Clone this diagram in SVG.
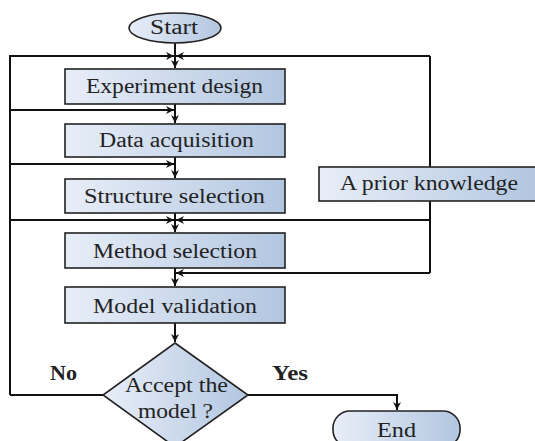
<svg xmlns="http://www.w3.org/2000/svg" width="535" height="441" viewBox="0 0 535 441">
<defs>
<linearGradient id="g" x1="0" y1="0" x2="1" y2="0">
<stop offset="0" stop-color="#e8eef8"/>
<stop offset="1" stop-color="#b2c6e0"/>
</linearGradient>
<marker id="a" viewBox="0 0 10 10" refX="10" refY="5" markerWidth="8" markerHeight="8" markerUnits="userSpaceOnUse" orient="auto">
<path d="M0,0 L10,5 L0,10 L3,5 Z" fill="#111"/>
</marker>
<style>
.n{fill:url(#g);stroke:#222;stroke-width:1.6}
.t{font-family:"Liberation Serif","DejaVu Serif",serif;font-size:20px;fill:#222}
.c{fill:none;stroke:#111;stroke-width:2}
</style>
</defs>
<g id="connectors">
<path class="c" d="M175,43 V68" marker-end="url(#a)"/>
<path class="c" d="M10,395 V56 H174" marker-end="url(#a)"/>
<path class="c" d="M430,56 H176" marker-end="url(#a)"/>
<path class="c" d="M430,56 V273"/>
<path class="c" d="M175,104 V123" marker-end="url(#a)"/>
<path class="c" d="M10,110 H174" marker-end="url(#a)"/>
<path class="c" d="M175,157 V178" marker-end="url(#a)"/>
<path class="c" d="M10,164 H174" marker-end="url(#a)"/>
<path class="c" d="M175,213 V232" marker-end="url(#a)"/>
<path class="c" d="M10,220 H174" marker-end="url(#a)"/>
<path class="c" d="M430,220 H176" marker-end="url(#a)"/>
<path class="c" d="M175,268 V286" marker-end="url(#a)"/>
<path class="c" d="M430,273 H176" marker-end="url(#a)"/>
<path class="c" d="M175,323 V342" marker-end="url(#a)"/>
<path class="c" d="M103,395 H10"/>
<path class="c" d="M248,395 H397 V410" marker-end="url(#a)"/>
</g>
<g id="start">
<ellipse class="n" cx="175" cy="28" rx="46" ry="15"/>
<text class="t" x="150" y="34" textLength="48" lengthAdjust="spacingAndGlyphs">Start</text>
</g>
<g id="experiment">
<rect class="n" x="65" y="69" width="220" height="35"/>
<text class="t" x="86" y="93" textLength="177" lengthAdjust="spacingAndGlyphs">Experiment design</text>
</g>
<g id="data">
<rect class="n" x="65" y="124" width="220" height="33"/>
<text class="t" x="99" y="147" textLength="155" lengthAdjust="spacingAndGlyphs">Data acquisition</text>
</g>
<g id="structure">
<rect class="n" x="65" y="179" width="220" height="34"/>
<text class="t" x="84" y="203" textLength="181" lengthAdjust="spacingAndGlyphs">Structure selection</text>
</g>
<g id="method">
<rect class="n" x="65" y="233" width="220" height="35"/>
<text class="t" x="93" y="258" textLength="164" lengthAdjust="spacingAndGlyphs">Method selection</text>
</g>
<g id="validation">
<rect class="n" x="65" y="287" width="220" height="36"/>
<text class="t" x="93" y="313" textLength="164" lengthAdjust="spacingAndGlyphs">Model validation</text>
</g>
<g id="prior">
<rect class="n" x="319" y="167" width="218" height="34"/>
<text class="t" x="340" y="190" textLength="178" lengthAdjust="spacingAndGlyphs">A prior knowledge</text>
</g>
<g id="decision">
<path class="n" d="M175,343 L248,395 L175,447 L103,395 Z"/>
<text class="t" x="125" y="392" textLength="103" lengthAdjust="spacingAndGlyphs">Accept the</text>
<text class="t" x="138" y="418" textLength="75" lengthAdjust="spacingAndGlyphs">model ?</text>
</g>
<g id="end">
<rect class="n" x="333" y="411" width="127" height="36" rx="17" ry="17"/>
<text class="t" x="377" y="437" textLength="39" lengthAdjust="spacingAndGlyphs">End</text>
</g>
<g id="labels">
<text class="t" x="50" y="380" font-weight="bold" textLength="27" lengthAdjust="spacingAndGlyphs">No</text>
<text class="t" x="272" y="380" font-weight="bold" textLength="36" lengthAdjust="spacingAndGlyphs">Yes</text>
</g>
</svg>
